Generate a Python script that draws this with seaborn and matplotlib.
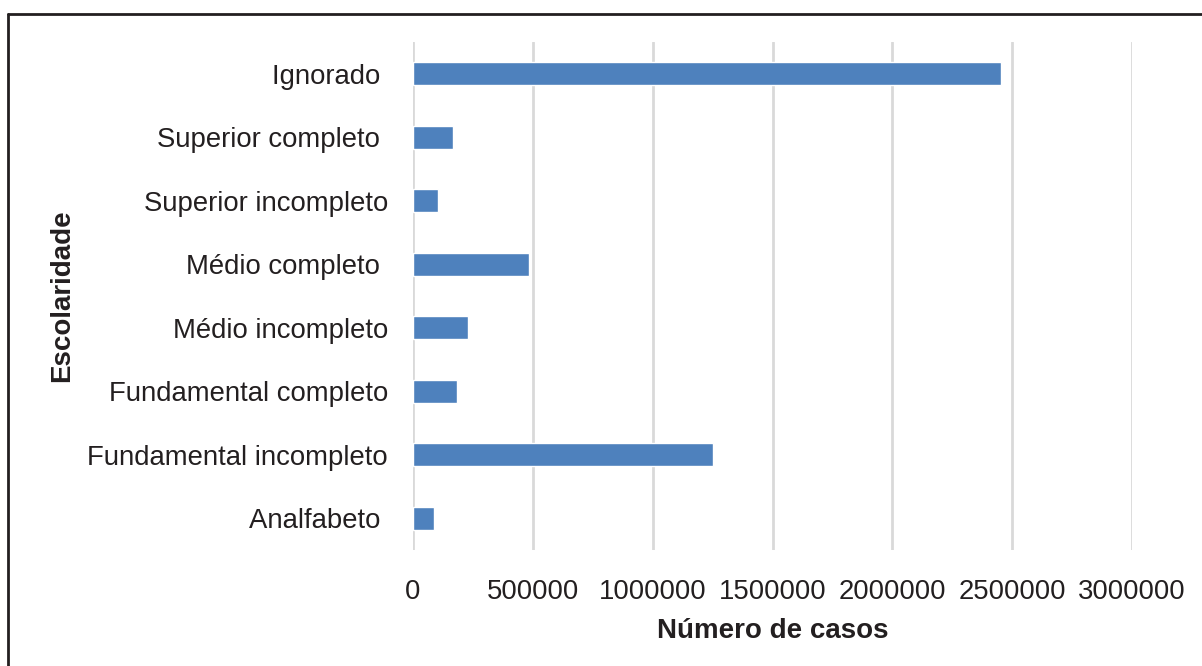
import matplotlib
matplotlib.use("Agg")
import matplotlib.pyplot as plt
from matplotlib.lines import Line2D
import seaborn as sns
import pandas as pd

# Data
categorias = ["Ignorado ", "Superior completo ", "Superior incompleto", "Médio completo ",
              "Médio incompleto", "Fundamental completo", "Fundamental incompleto", "Analfabeto "]
casos = [2455000, 168000, 105000, 485000, 230000, 184000, 1253000, 88000]
x_ticks = [0, 500000, 1000000, 1500000, 2000000, 2500000, 3000000]
x_ticklabels = ["0", "500000", "1000000", "1500000", "2000000", "2500000", "3000000"]

df = pd.DataFrame({"Escolaridade": categorias, "casos": casos})

sns.set_style("white")
plt.rcParams["font.family"] = ["Liberation Sans", "DejaVu Sans"]

fig = plt.figure(figsize=(12.02, 6.66), dpi=100)
ax = fig.add_axes([413 / 1202, 1 - 550 / 666, (1132 - 413) / 1202, (550 - 42) / 666])

sns.barplot(data=df, x="casos", y="Escolaridade", orient="h", color="#4e81bd",
            width=0.36, saturation=1, ax=ax, zorder=3)

ax.set_xlim(0, 3000000)
ax.set_ylim(7.5, -0.5)
ax.set_xticks(x_ticks)
ax.set_xticklabels(x_ticklabels)
ax.xaxis.grid(True, color="#d9d9d9", linewidth=2)
ax.yaxis.grid(False)
for s in ax.spines.values():
    s.set_visible(False)
ax.tick_params(axis="x", length=0, pad=21, labelsize=19.8, colors="#231f20")
ax.tick_params(axis="y", length=0, pad=18, labelsize=19.8, colors="#231f20")

ax.set_xlabel("Número de casos", fontsize=20, fontweight="bold", color="#231f20", labelpad=9)
ax.set_ylabel("Escolaridade", fontsize=20, fontweight="bold", color="#231f20")
ax.yaxis.set_label_coords((75 - 413) / (1132 - 413), 0.5)

# frame lines on the left and top of the figure
fig.add_artist(Line2D([8 / 1202, 8 / 1202], [0, 1 - 14 / 666], transform=fig.transFigure,
                      color="#231f20", linewidth=2))
fig.add_artist(Line2D([8 / 1202, 1], [1 - 14 / 666, 1 - 14 / 666], transform=fig.transFigure,
                      color="#231f20", linewidth=2))

fig.savefig("out.png", dpi=100)
